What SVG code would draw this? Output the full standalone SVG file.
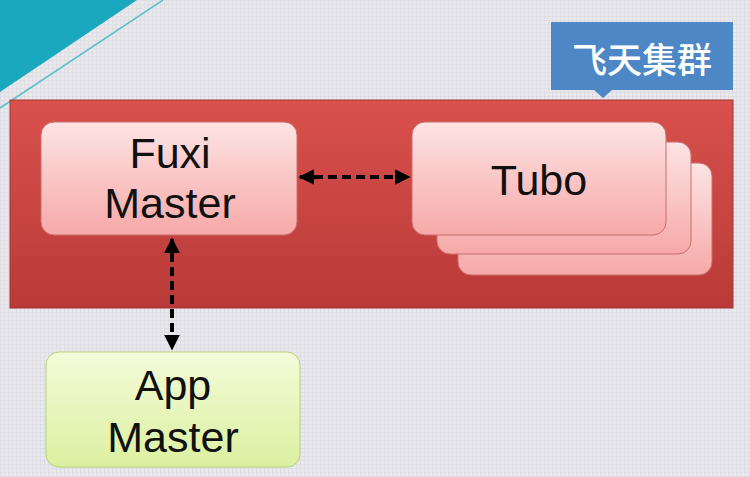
<svg xmlns="http://www.w3.org/2000/svg" width="750" height="477" viewBox="0 0 750 477">
<defs>
<pattern id="grid" width="4" height="4" patternUnits="userSpaceOnUse"><rect width="4" height="4" fill="#e9e9ed"/><path d="M0 0.5H4M0.5 0V4" stroke="#dedee4" stroke-width="1"/></pattern>
<linearGradient id="red" x1="0" y1="0" x2="0" y2="1"><stop offset="0" stop-color="#d9514c"/><stop offset="1" stop-color="#b93a38"/></linearGradient>
<linearGradient id="pink" x1="0" y1="0" x2="0" y2="1"><stop offset="0" stop-color="#fde4e4"/><stop offset="1" stop-color="#f6a9a8"/></linearGradient>
<linearGradient id="green" x1="0" y1="0" x2="0" y2="1"><stop offset="0" stop-color="#f3fbd9"/><stop offset="1" stop-color="#dcf0a0"/></linearGradient>
<marker id="ah" viewBox="0 0 10 10" refX="9" refY="5" markerWidth="4" markerHeight="4" orient="auto-start-reverse"><path d="M0 0L10 5L0 10z" fill="#000"/></marker>
</defs>
<style>
.lbl{font-family:"Liberation Sans",Arial,sans-serif;font-size:43px;fill:#111;text-anchor:middle}
.cn{font-family:"Noto Sans CJK SC",sans-serif;font-size:35px;font-weight:500;fill:#fff;text-anchor:middle}
.box{stroke:#c86e6e;stroke-width:1}
.conn{stroke:#000;stroke-width:4;stroke-dasharray:9 5;fill:none}
</style>
<rect width="750" height="477" fill="url(#grid)"/>
<polygon points="0,0 137,0 0,92" fill="#1aa8be"/>
<line x1="163" y1="0" x2="0" y2="108" stroke="#5cc0c8" stroke-width="1.5"/>
<g id="cluster">
<rect x="10" y="100" width="723" height="208" fill="url(#red)" stroke="#a33533" stroke-width="1"/>
</g>
<g id="label">
<path d="M551 22H733V90H612L603 98L594 90H551Z" fill="#4d87c6"/>
<text class="cn" x="642" y="73">飞天集群</text>
</g>
<g id="fuxi">
<rect class="box" x="41" y="122" width="256" height="113" rx="13" fill="url(#pink)"/>
<text class="lbl" x="170" y="168">Fuxi</text>
<text class="lbl" x="170" y="218">Master</text>
</g>
<g id="tubo">
<rect class="box" x="458" y="163" width="254" height="112" rx="13" fill="url(#pink)"/>
<rect class="box" x="437" y="142" width="254" height="112" rx="13" fill="url(#pink)"/>
<rect class="box" x="412" y="122" width="254" height="113" rx="13" fill="url(#pink)"/>
<text class="lbl" x="539" y="195">Tubo</text>
</g>
<g id="app">
<rect x="46" y="352" width="254" height="115" rx="13" fill="url(#green)" stroke="#b9d27a" stroke-width="1"/>
<text class="lbl" x="173" y="400">App</text>
<text class="lbl" x="173" y="452">Master</text>
</g>
<g id="connectors">
<line class="conn" x1="300" y1="177" x2="409" y2="177" marker-start="url(#ah)" marker-end="url(#ah)"/>
<line class="conn" x1="172" y1="239" x2="172" y2="349" marker-start="url(#ah)" marker-end="url(#ah)"/>
</g>
</svg>
